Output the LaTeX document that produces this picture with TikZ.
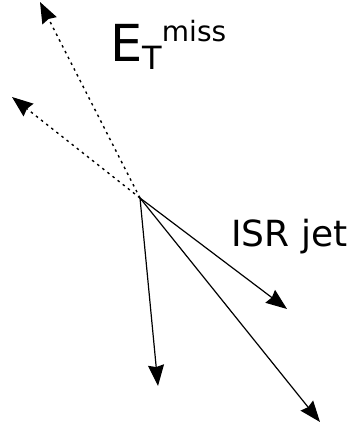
\documentclass[tikz,border=0pt]{standalone}
\usepackage{fontspec}
\setmainfont{DejaVu Sans}
\usetikzlibrary{arrows.meta}
\tikzset{
  vec/.style={line width=1.2pt,-{Stealth[length=21pt,width=16pt,inset=2pt]}},
  missvec/.style={vec,line width=1.4pt,dash pattern=on 2.5pt off 4pt},
  lbl/.style={inner sep=0pt,anchor=base west}
}
\begin{document}
\begin{tikzpicture}[x=1pt,y=1pt]
\useasboundingbox (0,0) rectangle (356,427);
\coordinate (o) at (140,229);
\coordinate (met1) at (40,425);
\coordinate (met2) at (12,330);
\coordinate (isr) at (287,118);
\coordinate (jetb) at (158,41);
\coordinate (jetc) at (320,5);
\draw[missvec](o)--(met1);
\draw[missvec](o)--(met2);
\draw[vec](o)--(isr);
\draw[vec](o)--(jetb);
\draw[vec](o)--(jetc);
\node[lbl] (etmiss) at (110,365) {\fontsize{51}{51}\selectfont E\raisebox{-8pt}{\fontsize{32}{32}\selectfont T}\raisebox{20pt}{\fontsize{28}{28}\selectfont miss}};
\node[lbl] (isrlbl) at (231,180) {\fontsize{36}{36}\selectfont ISR jet};
\end{tikzpicture}
\end{document}
